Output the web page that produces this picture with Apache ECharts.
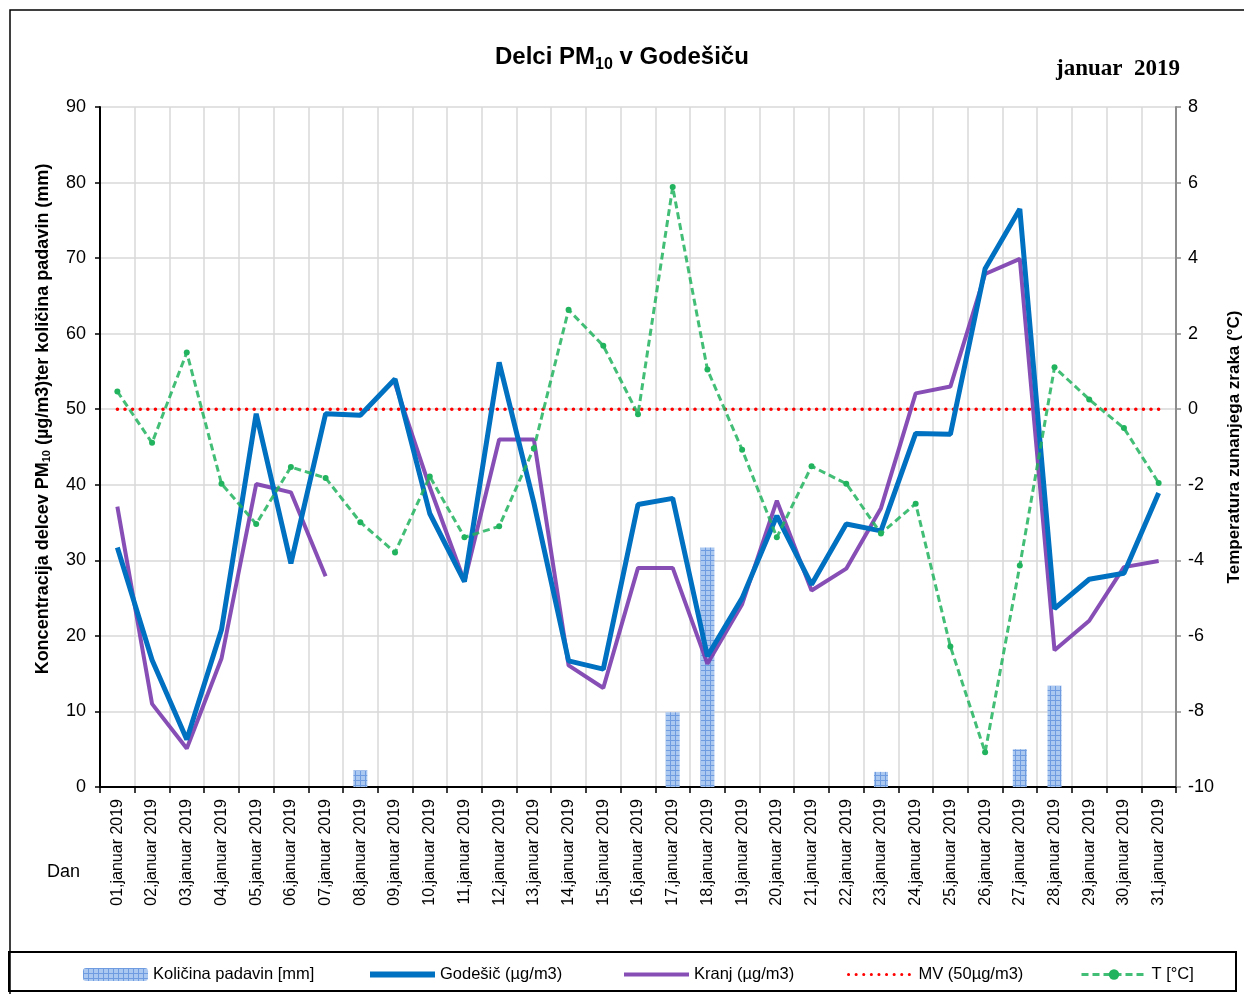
<!DOCTYPE html>
<html>
<head>
<meta charset="utf-8">
<script src="https://cdn.jsdelivr.net/npm/echarts@6/dist/echarts.min.js"></script>
<style>
  html, body { margin: 0; padding: 0; background: #fff; overflow: hidden; }
  #chart { width: 1244px; height: 994px; }
</style>
</head>
<body>
<div id="chart"></div>
<script>
// dnevi v januarju
var dnevi = [
    "01,januar 2019", "02,januar 2019", "03,januar 2019", "04,januar 2019", "05,januar 2019",
    "06,januar 2019", "07,januar 2019", "08,januar 2019", "09,januar 2019", "10,januar 2019",
    "11,januar 2019", "12,januar 2019", "13,januar 2019", "14,januar 2019", "15,januar 2019",
    "16,januar 2019", "17,januar 2019", "18,januar 2019", "19,januar 2019", "20,januar 2019",
    "21,januar 2019", "22,januar 2019", "23,januar 2019", "24,januar 2019", "25,januar 2019",
    "26,januar 2019", "27,januar 2019", "28,januar 2019", "29,januar 2019", "30,januar 2019",
    "31,januar 2019"
];

// kolicina padavin [mm]
var padavine = [0, 0, 0, 0, 0, 0, 0, 2.2, 0, 0, 0, 0, 0, 0, 0, 0, 9.9, 31.7, 0, 0,
    0, 0, 2.0, 0, 0, 0, 5.0, 13.4, 0, 0, 0];

// PM10 Godešič (µg/m3)
var godesic = [31.7, 16.8, 6.3, 20.8, 49.4, 29.6, 49.4, 49.2, 54.0, 36.2, 27.2, 56.2, 37.6, 16.7, 15.6,
    37.4, 38.2, 17.3, 25.0, 35.9, 26.8, 34.8, 33.9, 46.8, 46.7, 68.6, 76.5, 23.6, 27.5, 28.3, 38.9];

// PM10 Kranj (µg/m3), 8. januar manjka
var kranj = [37.1, 11.0, 5.1, 17.0, 40.1, 39.0, 27.9, null, 53.4, 39.7, 27.2, 46.0, 46.0, 16.1, 13.1,
    29.0, 29.0, 16.3, 24.2, 37.9, 26.0, 28.9, 36.9, 52.1, 53.0, 67.9, 69.9, 18.1, 22.0, 29.1, 29.9];

// mejna vrednost 50 µg/m3
var mv = [50, 50, 50, 50, 50, 50, 50, 50, 50, 50, 50, 50, 50, 50, 50, 50,
    50, 50, 50, 50, 50, 50, 50, 50, 50, 50, 50, 50, 50, 50, 50];

// temperatura zraka [°C]
var temperatura = [0.47, -0.89, 1.50, -1.97, -3.04, -1.53, -1.82, -2.99, -3.79, -1.78, -3.39, -3.10, -1.03,
    2.63, 1.68, -0.13, 5.88, 1.05, -1.07, -3.39, -1.51, -1.97, -3.29, -2.5, -6.28, -9.08, -4.14,
    1.11, 0.26, -0.5, -1.95];

var imena = ["Količina padavin [mm]", "Godešič (µg/m3)", "Kranj (µg/m3)", "MV (50µg/m3)", "T [°C]"];

var SANS = "'Liberation Sans', Arial, sans-serif";

// mrezast vzorec za stolpce
function makePattern() {
    var c = document.createElement("canvas");
    c.width = 5;
    c.height = 5;
    var ctx = c.getContext("2d");
    ctx.fillStyle = "#abc8f0";
    ctx.fillRect(0, 0, 5, 5);
    ctx.fillStyle = "#6f9ce0";
    ctx.fillRect(0, 0, 5, 1);
    ctx.fillRect(0, 0, 1, 5);
    return c;
}
var vzorec = { image: makePattern(), repeat: "repeat" };

// legenda: vsak element posebej
var legendPos = [78, 362, 617, 842, 1075];
var legendLine = [1, 6, 4, 3, 3];
var legendDot = [1, 0, 0, 0, 1];
var legends = [];
for (var i = 0; i < imena.length; i++) {
    legends.push({
        data: [imena[i]],
        left: legendPos[i],
        top: 961,
        itemWidth: 65,
        itemHeight: 13,
        itemGap: 0,
        selectedMode: false,
        itemStyle: { opacity: legendDot[i] },
        lineStyle: { width: legendLine[i] },
        textStyle: { fontFamily: SANS, fontSize: 16.5, color: "#000" }
    });
}

var chart = echarts.init(document.getElementById("chart"), null, { renderer: "canvas" });

var option = {
    backgroundColor: "#fff",
    animation: false,
    title: [{
        text: "{a|Delci PM}{s|10}{a| v Godešiču}",
        left: 490,
        top: 40,
        textStyle: {
            rich: {
                a: { fontFamily: SANS, fontWeight: "bold", fontSize: 24, color: "#000", verticalAlign: "bottom", padding: [0, 0, 4, 0] },
                s: { fontFamily: SANS, fontWeight: "bold", fontSize: 16, color: "#000", verticalAlign: "bottom" }
            }
        }
    }, {
        text: "januar  2019",
        left: 1051,
        top: 53,
        textStyle: { fontFamily: "'Liberation Serif', 'Times New Roman', serif", fontWeight: "bold", fontSize: 23, color: "#000" }
    }],
    legend: legends,
    graphic: [
        { type: "rect", shape: { x: 10, y: 10, width: 1260, height: 1010 }, style: { fill: null, stroke: "#000", lineWidth: 1.5 }, silent: true },
        { type: "rect", shape: { x: 9, y: 952, width: 1227, height: 39 }, style: { fill: "#fff", stroke: "#000", lineWidth: 2 }, silent: true, z: -1 },
        { type: "text", left: 47, top: 863, style: { text: "Dan", fontFamily: SANS, fontSize: 18, fill: "#000" } }
    ],
    grid: { left: 100, right: 68, top: 107, bottom: 207, outerBoundsMode: "none", containLabel: false },
    xAxis: {
        type: "category",
        data: dnevi,
        boundaryGap: true,
        axisLine: { lineStyle: { color: "#000", width: 2 } },
        axisTick: { show: true, length: 6, alignWithLabel: false, lineStyle: { color: "#000", width: 1.5 } },
        axisLabel: { interval: 0, rotate: 90, fontFamily: SANS, fontSize: 16, color: "#000", margin: 12 },
        splitLine: { show: true, interval: 0, lineStyle: { color: "#d9d9d9", width: 1.5 } }
    },
    yAxis: [{
        type: "value",
        min: 0,
        max: 90,
        interval: 10,
        name: "Koncentracija delcev PM{s|10} (µg/m3)ter količina padavin (mm)",
        nameLocation: "middle",
        nameRotate: 90,
        nameGap: 48,
        nameTextStyle: {
            fontFamily: SANS, fontWeight: "bold", fontSize: 18, color: "#000",
            padding: [0, 0, 0, 56],
            rich: { s: { fontFamily: SANS, fontWeight: "bold", fontSize: 11, color: "#000", verticalAlign: "bottom" } }
        },
        axisLine: { show: true, lineStyle: { color: "#000", width: 2 } },
        axisTick: { show: true, length: 5, lineStyle: { color: "#000", width: 1.5 } },
        axisLabel: { fontFamily: SANS, fontSize: 18, color: "#000", margin: 14 },
        splitLine: { show: true, lineStyle: { color: "#d9d9d9", width: 1.5 } }
    }, {
        type: "value",
        position: "right",
        min: -10,
        max: 8,
        interval: 2,
        name: "Temperatura zunanjega zraka (°C)",
        nameLocation: "middle",
        nameRotate: 90,
        nameGap: 50,
        nameTextStyle: { fontFamily: SANS, fontWeight: "bold", fontSize: 17, color: "#000" },
        axisLine: { show: true, lineStyle: { color: "#8c8c8c", width: 2 } },
        axisTick: { show: true, length: 5, lineStyle: { color: "#8c8c8c", width: 1.5 } },
        axisLabel: { fontFamily: SANS, fontSize: 18, color: "#000", margin: 12 },
        splitLine: { show: false }
    }],
    series: [{
        name: imena[0],
        type: "bar",
        data: padavine,
        barWidth: 14,
        itemStyle: { color: vzorec },
        z: 1
    }, {
        name: imena[1],
        type: "line",
        data: godesic,
        symbol: "none",
        lineStyle: { color: "#0070c0", width: 5 },
        itemStyle: { color: "#0070c0" },
        z: 4
    }, {
        name: imena[2],
        type: "line",
        data: kranj,
        connectNulls: false,
        symbol: "none",
        lineStyle: { color: "#7a3bae", width: 4, opacity: 0.9 },
        itemStyle: { color: "#7a3bae" },
        z: 3
    }, {
        name: imena[3],
        type: "line",
        data: mv,
        symbol: "none",
        lineStyle: { color: "#ff0000", width: 3.5, type: [0.1, 7.5], cap: "round" },
        itemStyle: { color: "#ff0000" },
        z: 2
    }, {
        name: imena[4],
        type: "line",
        yAxisIndex: 1,
        data: temperatura,
        symbol: "circle",
        symbolSize: 6,
        lineStyle: { color: "#22b35e", width: 3, type: [7, 4], opacity: 0.85 },
        itemStyle: { color: "#22b35e" },
        z: 5
    }]
};

chart.setOption(option);
</script>
</body>
</html>
